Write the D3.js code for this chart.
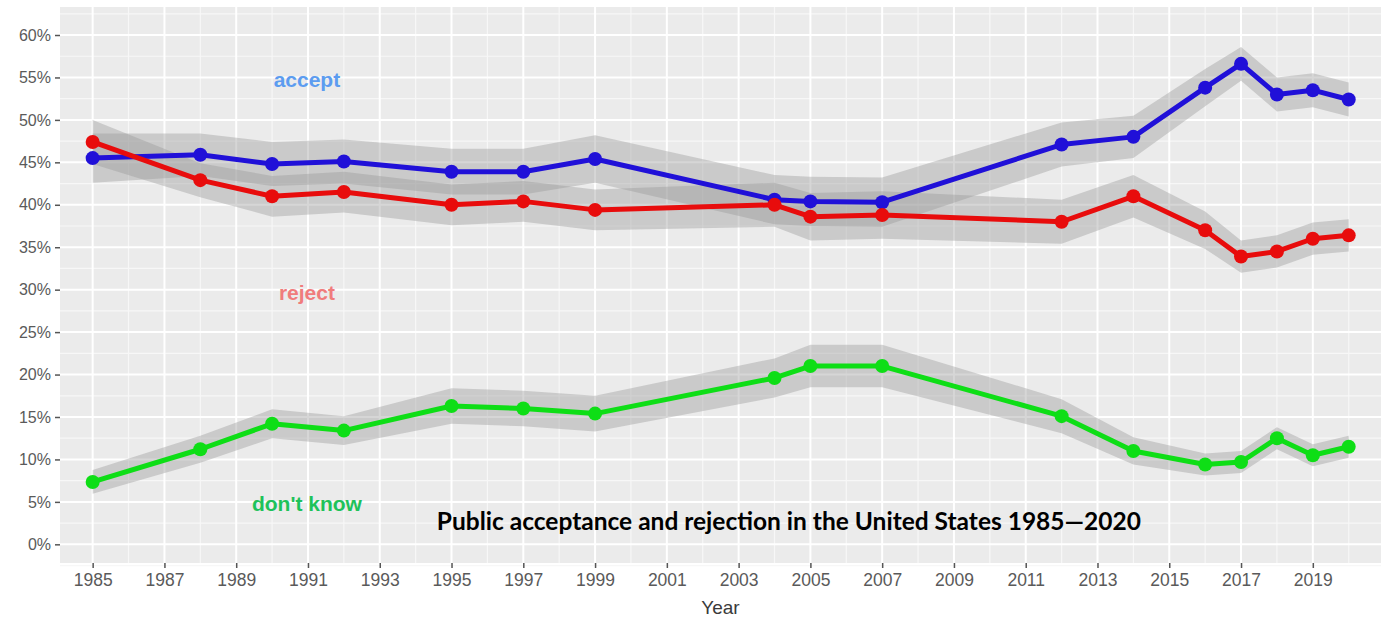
<!DOCTYPE html>
<html lang="en">
  <head>
    <meta charset="utf-8" />
    <title>Public acceptance and rejection</title>
    <script src="https://cdnjs.cloudflare.com/ajax/libs/d3/7.8.5/d3.min.js"></script>
    <style>
      body { margin: 0; background: #fff; }
    </style>
  </head>
  <body>
    <div id="chart"></div>
    <script>
    // survey years
    var years = [1985, 1988, 1990, 1992, 1995, 1997, 1999, 2004, 2005, 2007, 2012, 2014, 2016, 2017, 2018, 2019, 2020];

    // percentages
    var accept   = [45.5, 45.9, 44.8, 45.1, 43.9, 43.9, 45.4, 40.6, 40.4, 40.3, 47.1, 48.0, 53.8, 56.6, 53.0, 53.5, 52.4];
    var reject   = [47.4, 42.9, 41.0, 41.5, 40.0, 40.4, 39.4, 40.0, 38.6, 38.8, 38.0, 41.0, 37.0, 33.9, 34.5, 36.0, 36.4];
    var dontKnow = [7.35, 11.2, 14.2, 13.4, 16.3, 16.0, 15.4, 19.6, 21.0, 21.0, 15.1, 11.0, 9.4, 9.7, 12.5, 10.5, 11.5];

    // half width of the grey bands
    var acceptErr   = [2.9, 2.5, 2.6, 2.6, 2.7, 2.7, 2.8, 2.9, 2.9, 2.9, 2.6, 2.5, 2.2, 2.0, 2.0, 2.0, 2.0];
    var rejectErr   = [2.6, 2.0, 2.4, 2.4, 2.4, 2.4, 2.4, 2.6, 2.8, 2.8, 2.6, 2.5, 2.2, 1.9, 1.9, 1.9, 1.9];
    var dontKnowErr = [1.4, 1.6, 1.7, 1.7, 2.1, 2.1, 2.1, 2.3, 2.5, 2.5, 2.0, 1.6, 1.3, 1.3, 1.3, 1.3, 1.3];

    var xTicks = d3.range(1985, 2020, 2);
    var yTicks = d3.range(0, 61, 5);

    var W = 1386, H = 620;
    var margin = {top: 7, right: 5, bottom: 57, left: 60},
        width = W - margin.left - margin.right,
        height = H - margin.top - margin.bottom;

    var svg = d3.select("#chart").append("svg")
        .attr("width", W)
        .attr("height", H);

    var g = svg.append("g")
        .attr("transform", "translate(" + margin.left + "," + margin.top + ")");

    var x = d3.scaleLinear().domain([1984.09, 2020.9]).range([0, width]);
    var y = d3.scaleLinear().domain([-2.2, 63.3]).range([height, 0]);

    // panel + grid (ggplot look)
    g.append("rect").attr("width", width).attr("height", height).attr("fill", "#ebebeb");

    var minorX = d3.range(1985, 2021, 1).filter(function(d){ return (d % 2) === 0; });
    var minorY = d3.range(-2.5, 63, 5);

    g.selectAll(".gx-minor").data(minorX).enter().append("line")
      .attr("x1", function(d){ return x(d); }).attr("x2", function(d){ return x(d); })
      .attr("y1", 0).attr("y2", height)
      .attr("stroke", "#f7f7f7").attr("stroke-width", 1.2);
    g.selectAll(".gy-minor").data(minorY).enter().append("line")
      .attr("y1", function(d){ return y(d); }).attr("y2", function(d){ return y(d); })
      .attr("x1", 0).attr("x2", width)
      .attr("stroke", "#f7f7f7").attr("stroke-width", 1.2);
    g.selectAll(".gx").data(xTicks).enter().append("line")
      .attr("x1", function(d){ return x(d); }).attr("x2", function(d){ return x(d); })
      .attr("y1", 0).attr("y2", height)
      .attr("stroke", "#fff").attr("stroke-width", 2);
    g.selectAll(".gy").data(yTicks).enter().append("line")
      .attr("y1", function(d){ return y(d); }).attr("y2", function(d){ return y(d); })
      .attr("x1", 0).attr("x2", width)
      .attr("stroke", "#fff").attr("stroke-width", 2);

    var series = [
      {name: "accept", vals: accept, err: acceptErr, color: "#2010d8"},
      {name: "reject", vals: reject, err: rejectErr, color: "#e80c0c"},
      {name: "dontknow", vals: dontKnow, err: dontKnowErr, color: "#0ede16"}
    ];

    var area = d3.area()
      .x(function(d){ return x(d.year); })
      .y0(function(d){ return y(d.v - d.e); })
      .y1(function(d){ return y(d.v + d.e); });

    var line = d3.line()
      .x(function(d){ return x(d.year); })
      .y(function(d){ return y(d.v); });

    series.forEach(function(s){
      s.pts = years.map(function(yr, i){ return {year: yr, v: s.vals[i], e: s.err[i]}; });
    });

    // ribbons first
    series.forEach(function(s){
      g.append("path").datum(s.pts)
        .attr("d", area)
        .attr("fill", "#999999")
        .attr("fill-opacity", 0.4);
    });

    // lines + points
    series.forEach(function(s){
      g.append("path").datum(s.pts)
        .attr("d", line)
        .attr("fill", "none")
        .attr("stroke", s.color)
        .attr("stroke-width", 5)
        .attr("stroke-linejoin", "round");
      g.selectAll(".pt-" + s.name).data(s.pts).enter().append("circle")
        .attr("cx", function(d){ return x(d.year); })
        .attr("cy", function(d){ return y(d.v); })
        .attr("r", 7)
        .attr("fill", s.color);
    });

    // axes
    var xAxis = g.append("g")
      .attr("transform", "translate(0," + height + ")")
      .call(d3.axisBottom(x).tickValues(xTicks).tickFormat(d3.format("d")).tickSize(5).tickPadding(6));
    var yAxis = g.append("g")
      .call(d3.axisLeft(y).tickValues(yTicks).tickFormat(function(d){ return d + "%"; }).tickSize(5).tickPadding(4));

    [xAxis, yAxis].forEach(function(a){
      a.select(".domain").remove();
      a.selectAll(".tick line").attr("stroke", "#555").attr("stroke-width", 1.5);
      a.selectAll(".tick text")
        .attr("fill", "#5a5a5a")
        .style("font-family", "'Liberation Sans', Arial, sans-serif");
    });
    xAxis.selectAll(".tick text").style("font-size", "17.5px");
    yAxis.selectAll(".tick text").style("font-size", "16px");

    g.append("text")
      .attr("x", width / 2)
      .attr("y", height + 51)
      .attr("text-anchor", "middle")
      .attr("fill", "#3a3a3a")
      .style("font-family", "'Liberation Sans', Arial, sans-serif")
      .style("font-size", "19px")
      .text("Year");

    // series labels
    var labels = [
      {text: "accept", yr: 1990.97, v: 54.8, color: "#5c9cf0"},
      {text: "reject", yr: 1990.97, v: 29.7, color: "#f07c7c"},
      {text: "don't know", yr: 1990.97, v: 4.75, color: "#1ec25a"}
    ];
    g.selectAll(".lbl").data(labels).enter().append("text")
      .attr("x", function(d){ return x(d.yr); })
      .attr("y", function(d){ return y(d.v); })
      .attr("dy", "0.35em")
      .attr("text-anchor", "middle")
      .attr("fill", function(d){ return d.color; })
      .style("font-family", "'Liberation Sans', Arial, sans-serif")
      .style("font-weight", "bold")
      .style("font-size", "21px")
      .text(function(d){ return d.text; });

    // title inside the panel
    g.append("text")
      .attr("x", x(2004.4))
      .attr("y", y(2.75))
      .attr("dy", "0.35em")
      .attr("text-anchor", "middle")
      .attr("fill", "#000")
      .style("font-family", "Lato, 'Open Sans', sans-serif")
      .style("font-weight", "bold")
      .style("font-size", "24.5px")
      .text("Public acceptance and rejection in the United States 1985\u20142020");
    </script>
  </body>
</html>
